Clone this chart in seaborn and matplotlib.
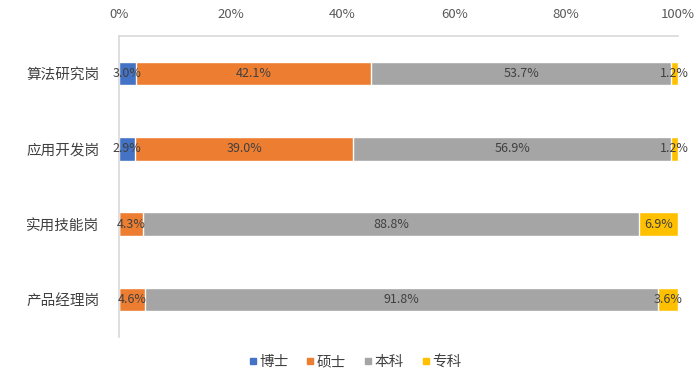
import matplotlib
matplotlib.use("Agg")
import matplotlib.pyplot as plt
import numpy as np
import pandas as pd
import seaborn as sns
from matplotlib.lines import Line2D

categories = ["算法研究岗", "应用开发岗", "实用技能岗", "产品经理岗"]
series = ["博士", "硕士", "本科", "专科"]
phd = [3.0, 2.9, 0.0, 0.0]
master = [42.1, 39.0, 4.3, 4.6]
bachelor = [53.7, 56.9, 88.8, 91.8]
college = [1.2, 1.2, 6.9, 3.6]
colors = ["#4472C4", "#ED7D31", "#A5A5A5", "#FFC000"]

sns.set_theme(style="white")
plt.rcParams["font.family"] = ["Noto Sans CJK SC", "DejaVu Sans"]

vals = np.array([phd, master, bachelor, college])
cum = np.cumsum(vals, axis=0)

fig = plt.figure(figsize=(7, 3.79), dpi=100)
ax = fig.add_axes([0.170, 0.111, 0.7986, 0.794])

# draw cumulative bars from the last series backwards so they stack
for i in range(len(series) - 1, -1, -1):
    df = pd.DataFrame({"cat": categories, "x": cum[i]})
    sns.barplot(data=df, x="x", y="cat", color=colors[i], width=0.31,
                saturation=1, orient="h", ax=ax)

# segment labels
for i in range(len(series)):
    for j, cat in enumerate(categories):
        v = vals[i][j]
        if v <= 0:
            continue
        left = cum[i][j] - v
        ax.text(left + v / 2, j, f"{v:.1f}%", ha="center", va="center",
                fontsize=9, color="#404040")

ax.set_xlim(0, 100)
ax.set_ylim(3.5, -0.5)
ax.set_xlabel("")
ax.set_ylabel("")
ax.xaxis.tick_top()
ax.set_xticks([0, 20, 40, 60, 80, 100])
ax.set_xticklabels([f"{t}%" for t in [0, 20, 40, 60, 80, 100]])
ax.tick_params(axis="x", length=0, labelsize=9.5, labelcolor="#595959", pad=11)
ax.tick_params(axis="y", length=0, labelsize=10.5, labelcolor="#404040", pad=14)
for s in ["right", "bottom"]:
    ax.spines[s].set_visible(False)
for s in ["top", "left"]:
    ax.spines[s].set_color("#D9D9D9")
    ax.spines[s].set_linewidth(1.2)

handles = [Line2D([0], [0], marker="s", linestyle="", markersize=5,
                  markerfacecolor=c, markeredgecolor=c) for c in colors]
fig.legend(handles, series, loc="center", bbox_to_anchor=(0.507, 0.045),
           ncol=4, frameon=False, fontsize=10.5, handlelength=0.6,
           handletextpad=0.15, columnspacing=1.2, labelcolor="#404040")

fig.savefig("out.png", dpi=100)
